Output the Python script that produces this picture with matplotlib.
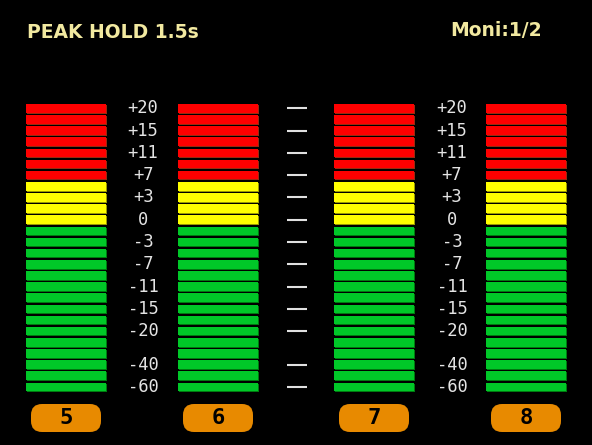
import matplotlib
matplotlib.use("Agg")
import matplotlib.pyplot as plt
from matplotlib.patches import FancyBboxPatch

# --- data ---
channels = ["5", "6", "7", "8"]
channel_left = [26, 178, 334, 486]       # left edge of each meter column [px]
seg_counts = {"red": 7, "yellow": 4, "green": 15}   # top → bottom
seg_colors = {"red": "#ff0000", "yellow": "#ffff00", "green": "#00c828"}
seg_shadow = {"red": "#9a2a10", "yellow": "#9a9a00", "green": "#007a10"}
scale_labels = ["+20", "+15", "+11", "+7", "+3", "0", "-3", "-7",
                "-11", "-15", "-20", "-40", "-60"]
scale_rows = [0, 2, 4, 6, 8, 10, 12, 14, 16, 18, 20, 23, 25]
title_text = "PEAK HOLD 1.5s"
moni_text = "Moni:1/2"

# --- layout (pixel units) ---
W, H = 592, 445
top_y = 108.3
pitch = 11.14
seg_h = 8.6
seg_w = 80
label_cols = [143, 452]
dash_col = (287, 307)

fig = plt.figure(figsize=(W / 100, H / 100), dpi=100, facecolor="black")
ax = fig.add_axes([0, 0, 1, 1])
ax.set_xlim(0, W)
ax.set_ylim(H, 0)
ax.set_facecolor("black")
ax.axis("off")

# segment list top → bottom
seg_list = []
for name in ["red", "yellow", "green"]:
    seg_list += [name] * seg_counts[name]
rows = list(range(len(seg_list)))
ys = [top_y + r * pitch for r in rows]
face = [seg_colors[n] for n in seg_list]
shade = [seg_shadow[n] for n in seg_list]

for left in channel_left:
    # dark bottom/right edge behind the lit segment
    ax.barh([y + 1 for y in ys], seg_w, left=left + 1, height=seg_h,
            color=shade, linewidth=0)
    ax.barh(ys, seg_w, left=left, height=seg_h, color=face, linewidth=0)

# scale labels
for x in label_cols:
    for lab, r in zip(scale_labels, scale_rows):
        ax.text(x, top_y + r * pitch, lab, color="#e4e4e4", ha="center",
                va="center", fontsize=12.3, family="DejaVu Sans Mono")

# center dash column
ax.hlines([top_y + r * pitch for r in scale_rows], dash_col[0], dash_col[1],
          color="#e0e0e0", linewidth=1.5)

# channel badges
for ch, left in zip(channels, channel_left):
    cx = left + seg_w / 2
    box = FancyBboxPatch((cx - 35, 404), 70, 28,
                         boxstyle="round,pad=0,rounding_size=11",
                         facecolor="#e88a00", edgecolor="none")
    ax.add_patch(box)
    ax.text(cx, 418.5, ch, color="black", ha="center", va="center",
            fontsize=16, fontweight="bold", family="DejaVu Sans Mono")

ax.text(27, 33, title_text, color="#f2e9a0", ha="left", va="center",
        fontsize=13.5, fontweight="bold")
ax.text(450, 31, moni_text, color="#f2e9a0", ha="left", va="center",
        fontsize=13.5, fontweight="bold")

fig.savefig("out.png", dpi=100, facecolor="black")
